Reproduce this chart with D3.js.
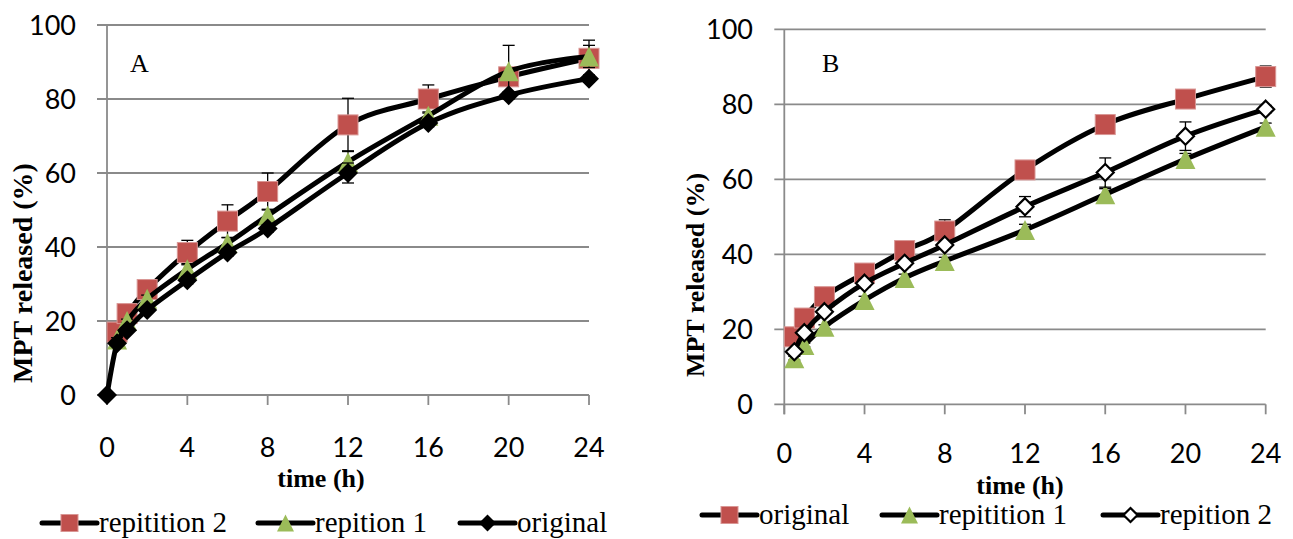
<!DOCTYPE html>
<html>
<head>
<meta charset="utf-8">
<script src="https://cdn.jsdelivr.net/npm/d3@7"></script>
<style>
  html, body { margin: 0; padding: 0; background: #fff; }
  svg { display: block; }
</style>
</head>
<body>
<svg id="chart" width="1293" height="539"></svg>
<script>
// ---------- data ----------
const timeA = [0, 0.5, 1, 2, 4, 6, 8, 12, 16, 20, 24];
const rep2A = [null, 17, 22, 28.5, 38.5, 47, 55, 73, 80, 86, 91];
const rep2AErr = [null, 1, 1, 2.3, 3.3, 4.4, 5, 7.2, 3.8, 1.5, 4.9];
const rep1A = [null, 15, 20, 26, 34, 41, 48.5, 63, 75.5, 87.5, 91.5];
const rep1AErr = [null, 0.5, 0.5, 1, 1.5, 1.5, 1.7, 3, 1, 7, 3];
const origA = [0, 14, 17.5, 23, 31, 38.5, 45, 60, 73.5, 81, 85.5];
const origAErr = [0, 0.5, 0.5, 0.5, 1, 1, 1, 2.7, 1, 1, 1];

const timeB = [0.5, 1, 2, 4, 6, 8, 12, 16, 20, 24];
const origB = [18, 23, 28.7, 35, 41, 46.2, 62.5, 74.6, 81.4, 87.4];
const origBErr = [0.5, 0.5, 0.5, 0.5, 1, 3, 1, 1, 1, 2.8];
const rep1B = [12.3, 15.8, 20.7, 27.8, 33.7, 38.2, 46.5, 56, 65.4, 74];
const rep1BErr = [0.5, 0.5, 0.5, 1, 1, 1, 1.5, 1.5, 1.5, 1];
const rep2B = [14, 19.1, 24.7, 32.3, 37.6, 42.5, 52.7, 61.8, 71.5, 78.7];
const rep2BErr = [0.5, 0.5, 0.5, 1, 1, 1, 2.7, 3.9, 3.8, 1];

const xTicks = [0, 4, 8, 12, 16, 20, 24];
const yTicks = [0, 20, 40, 60, 80, 100];
const xTitle = "time (h)";
const yTitle = "MPT released (%)";

const legendA = ["repitition 2", "repition 1", "original"];
const legendB = ["original", "repitition 1", "repition 2"];

// ---------- styling ----------
const RED = "#C0504D", GREEN = "#9BBB59", GRID = "#8a8a8a";
const NUMFONT = "Lato, 'Open Sans', sans-serif";
const SERIF = "'Liberation Serif', 'DejaVu Serif', serif";

const svg = d3.select("#chart");

function marker(g, type, cx, cy, s) {
  if (type === "square") {
    g.append("rect").attr("x", cx - s / 2).attr("y", cy - s / 2)
      .attr("width", s).attr("height", s)
      .attr("fill", RED).attr("stroke", "#d99694").attr("stroke-width", 1);
  } else if (type === "triangle") {
    const h = s;
    g.append("path")
      .attr("d", `M${cx},${cy - h / 2} L${cx + s / 2},${cy + h / 2} L${cx - s / 2},${cy + h / 2} Z`)
      .attr("fill", GREEN);
  } else if (type === "diamond") {
    const r = s / 2;
    g.append("path")
      .attr("d", `M${cx},${cy - r} L${cx + r},${cy} L${cx},${cy + r} L${cx - r},${cy} Z`)
      .attr("fill", "#000");
  } else if (type === "hdiamond") {
    const r = s / 2 - 1;
    g.append("path")
      .attr("d", `M${cx},${cy - r} L${cx + r},${cy} L${cx},${cy + r} L${cx - r},${cy} Z`)
      .attr("fill", "#fff").attr("stroke", "#000").attr("stroke-width", 2.2);
  }
}

function drawPanel(cfg) {
  const x = d3.scaleLinear().domain([0, 24]).range([cfg.left, cfg.right]);
  const y = d3.scaleLinear().domain([0, 100]).range([cfg.bottom, cfg.top]);
  const g = svg.append("g");

  // gridlines
  g.append("g").selectAll("line").data(yTicks).join("line")
    .attr("x1", cfg.left - 10).attr("x2", cfg.right)
    .attr("y1", d => y(d)).attr("y2", d => y(d))
    .attr("stroke", GRID).attr("stroke-width", 1.8);
  // y axis line
  g.append("line").attr("x1", cfg.left).attr("x2", cfg.left)
    .attr("y1", y(100)).attr("y2", y(0) + 10)
    .attr("stroke", GRID).attr("stroke-width", 1.8);
  // x ticks
  g.append("g").selectAll("line").data(xTicks).join("line")
    .attr("x1", d => x(d)).attr("x2", d => x(d))
    .attr("y1", y(0)).attr("y2", y(0) + 10)
    .attr("stroke", GRID).attr("stroke-width", 1.8);

  // tick labels
  g.append("g").selectAll("text").data(yTicks).join("text")
    .attr("x", cfg.yLabelRight).attr("y", d => y(d))
    .attr("dy", "0.36em").attr("text-anchor", "end")
    .attr("font-family", NUMFONT).attr("font-size", 27).attr("fill", "#000")
    .text(d => d);
  g.append("g").selectAll("text").data(xTicks).join("text")
    .attr("x", d => x(d)).attr("y", cfg.xLabelBase)
    .attr("text-anchor", "middle")
    .attr("font-family", NUMFONT).attr("font-size", 27).attr("fill", "#000")
    .text(d => d);

  // axis titles
  g.append("text").attr("x", cfg.xTitleX).attr("y", cfg.xTitleY)
    .attr("text-anchor", "middle").attr("font-family", SERIF)
    .attr("font-weight", "bold").attr("font-size", 26).text(xTitle);
  g.append("text")
    .attr("transform", `translate(${cfg.yTitleX},${cfg.yTitleY}) rotate(-90)`)
    .attr("text-anchor", "middle").attr("font-family", SERIF)
    .attr("font-weight", "bold").attr("font-size", cfg.yTitleSize).text(yTitle);

  // panel letter
  g.append("text").attr("x", cfg.letterX).attr("y", cfg.letterY)
    .attr("font-family", SERIF).attr("font-size", 26).text(cfg.letter);

  // series
  const line = d3.line().defined(d => d.v != null)
    .x(d => x(d.t)).y(d => y(d.v)).curve(d3.curveCardinal.tension(0));
  cfg.series.forEach(s => {
    const pts = cfg.time.map((t, i) => ({ t, v: s.values[i], e: s.err[i] }))
      .filter(d => d.v != null);
    const sg = g.append("g");
    sg.append("path").datum(pts).attr("d", line)
      .attr("fill", "none").attr("stroke", "#000").attr("stroke-width", 5)
      .attr("stroke-linejoin", "round");
    // error bars
    pts.filter(d => d.e > 0).forEach(d => {
      const cx = x(d.t);
      sg.append("line").attr("x1", cx).attr("x2", cx)
        .attr("y1", y(d.v - d.e)).attr("y2", y(d.v + d.e))
        .attr("stroke", "#000").attr("stroke-width", 1.3);
      [d.v - d.e, d.v + d.e].forEach(v => {
        sg.append("line").attr("x1", cx - 6).attr("x2", cx + 6)
          .attr("y1", y(v)).attr("y2", y(v))
          .attr("stroke", "#000").attr("stroke-width", 1.3);
      });
    });
    pts.forEach(d => marker(sg, s.marker, x(d.t), y(d.v), s.size));
  });

  // legend
  cfg.legend.forEach((item, i) => {
    const lx = cfg.legendX[i], ly = cfg.legendY;
    const lg = g.append("g");
    lg.append("line").attr("x1", lx).attr("x2", lx + 55)
      .attr("y1", ly).attr("y2", ly)
      .attr("stroke", "#000").attr("stroke-width", 5).attr("stroke-linecap", "round");
    marker(lg, cfg.series[i].marker, lx + 27.5, ly, cfg.series[i].marker === "hdiamond" ? 16 : 17);
    lg.append("text").attr("x", lx + 57).attr("y", ly).attr("dy", "0.32em")
      .attr("font-family", SERIF).attr("font-size", 29).text(item);
  });
}

drawPanel({
  left: 107, right: 589, top: 25, bottom: 395,
  yLabelRight: 76, xLabelBase: 457,
  xTitleX: 321, xTitleY: 487,
  yTitleX: 32, yTitleY: 273, yTitleSize: 28,
  letter: "A", letterX: 130, letterY: 72,
  time: timeA,
  series: [
    { values: rep2A, err: rep2AErr, marker: "square", size: 20 },
    { values: rep1A, err: rep1AErr, marker: "triangle", size: 20 },
    { values: origA, err: origAErr, marker: "diamond", size: 20 }
  ],
  legend: legendA, legendX: [42, 258, 460], legendY: 523
});

drawPanel({
  left: 784.3, right: 1265.7, top: 29.3, bottom: 404.3,
  yLabelRight: 753, xLabelBase: 463,
  xTitleX: 1020, xTitleY: 494,
  yTitleX: 704, yTitleY: 275, yTitleSize: 26,
  letter: "B", letterX: 822, letterY: 72,
  time: timeB,
  series: [
    { values: origB, err: origBErr, marker: "square", size: 20 },
    { values: rep1B, err: rep1BErr, marker: "triangle", size: 20 },
    { values: rep2B, err: rep2BErr, marker: "hdiamond", size: 19 }
  ],
  legend: legendB, legendX: [702, 882, 1103], legendY: 515
});
</script>
</body>
</html>
